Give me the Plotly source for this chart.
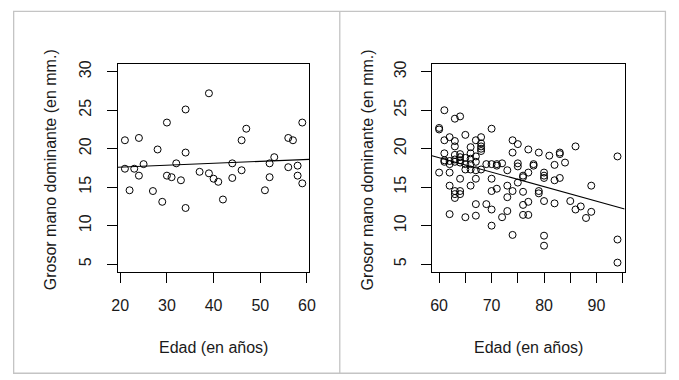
import numpy as np
import plotly.graph_objects as go

# ---------------- data ----------------
# Left panel: younger group (age, dominant-hand thickness in mm)
edad_jov = [21, 21, 22, 23, 24, 24, 25, 27, 28, 29, 30, 30, 31, 32, 33, 34, 34, 34,
            37, 39, 39, 40, 41, 42, 44, 44, 46, 46, 47, 51, 52, 52, 53, 56, 56, 57,
            58, 58, 59, 59]
grosor_jov = [21.1, 17.4, 14.6, 17.4, 21.4, 16.5, 18.0, 14.5, 19.9, 13.1, 23.4, 16.5,
              16.3, 18.1, 15.9, 25.1, 19.5, 12.3, 17.0, 27.2, 16.8, 16.1, 15.7, 13.4,
              18.1, 16.2, 21.1, 17.2, 22.6, 14.6, 18.1, 16.3, 18.9, 21.4, 17.6, 21.1,
              17.8, 16.5, 23.4, 15.5]

# Right panel: older group
edad_may = [60, 60, 60,
            61, 61, 61, 61, 61,
            62, 62, 62, 62, 62, 62,
            63, 63, 63, 63, 63, 63, 63, 63, 63,
            64, 64, 64, 64, 64, 64, 64, 64,
            65, 65, 65, 65, 65,
            66, 66, 66, 66, 66, 66,
            67, 67, 67, 67, 67, 67, 67,
            68, 68, 68, 68, 68, 68,
            69, 69,
            70, 70, 70, 70, 70, 70,
            71, 71, 71,
            72, 72,
            73, 73, 73, 73,
            74, 74, 74, 74,
            75, 75, 75, 75,
            76, 76, 76, 76, 76,
            77, 77, 77, 77,
            78, 78,
            79, 79, 79,
            80, 80, 80, 80, 80, 80,
            81,
            82, 82, 82,
            83, 83, 83,
            84, 85, 86, 86, 87, 88, 89, 89,
            94, 94, 94]
grosor_may = [22.7, 22.5, 16.9,
              25.0, 21.1, 19.4, 18.5, 18.3,
              21.5, 18.4, 18.0, 16.9, 15.2, 11.5,
              23.9, 21.0, 20.3, 19.2, 18.6, 18.3, 14.5, 14.1, 13.6,
              24.2, 19.3, 18.9, 18.5, 18.2, 16.1, 14.5, 14.1,
              21.8, 18.8, 18.0, 17.3, 11.1,
              20.2, 19.4, 18.7, 18.0, 17.3, 15.2,
              21.1, 19.0, 18.3, 17.2, 16.1, 12.8, 11.3,
              21.5, 20.7, 20.3, 20.0, 19.7, 17.3,
              18.0, 12.8,
              22.6, 18.0, 16.1, 14.5, 12.1, 10.0,
              18.0, 17.8, 14.8,
              18.1, 11.1,
              17.2, 15.2, 13.7, 11.9,
              21.1, 19.5, 14.5, 8.8,
              20.6, 18.1, 17.7, 15.6,
              16.5, 16.3, 14.4, 12.7, 11.4,
              19.9, 16.9, 13.1, 11.4,
              18.0, 17.8,
              19.5, 14.5, 14.2,
              16.9, 16.5, 16.2, 13.2, 8.7, 7.4,
              19.1,
              17.9, 15.9, 12.9,
              19.5, 19.3, 16.2,
              18.2, 13.2, 20.3, 12.1, 12.5, 11.0, 15.2, 11.8,
              19.0, 8.2, 5.2]

y_ticks = [5, 10, 15, 20, 25, 30]
x_ticks_jov = [20, 30, 40, 50, 60]
x_ticks_may = [60, 65, 70, 75, 80, 85, 90, 95]
x_ticktext_may = ["60", "", "70", "", "80", "", "90", ""]

titulo_x = "Edad (en años)"
titulo_y = "Grosor mano dominante (en mm.)"

# ---------------- figure ----------------
W, H = 679, 380
FONT = "Liberation Sans, Arial, sans-serif"
TXT = "#1a1a1a"

def r_range(vals):
    a, b = min(vals), max(vals)
    d = (b - a) * 0.04
    return [a - d, b + d]

xr1 = r_range(edad_jov)
xr2 = r_range(edad_may)
yr = r_range([5, 30])

fig = go.Figure()

marker = dict(symbol="circle-open", size=7, color="black", line=dict(width=1, color="black"))

fig.add_trace(go.Scatter(x=edad_jov, y=grosor_jov, mode="markers", marker=marker,
                         xaxis="x", yaxis="y", showlegend=False, hoverinfo="skip"))
fig.add_trace(go.Scatter(x=edad_may, y=grosor_may, mode="markers", marker=marker,
                         xaxis="x2", yaxis="y2", showlegend=False, hoverinfo="skip"))

# regression lines (abline across the plot region)
b1, a1 = np.polyfit(edad_jov, grosor_jov, 1)
b2, a2 = np.polyfit(edad_may, grosor_may, 1)
fig.add_trace(go.Scatter(x=xr1, y=[a1 + b1 * v for v in xr1], mode="lines",
                         line=dict(color="black", width=1.1), xaxis="x", yaxis="y",
                         showlegend=False, hoverinfo="skip"))
fig.add_trace(go.Scatter(x=xr2, y=[a2 + b2 * v for v in xr2], mode="lines",
                         line=dict(color="black", width=1.1), xaxis="x2", yaxis="y2",
                         showlegend=False, hoverinfo="skip"))

# plot-region geometry (pixels)
L1, R1 = 114.0, 309.3
L2, R2 = 434.3, 630.7
T, B = 60.7, 270.7

def px(x):
    return x / W

def py(y):
    return 1 - y / H

axis_common = dict(showline=True, mirror=True, linecolor="black", linewidth=1,
                   ticks="outside", ticklen=10, tickwidth=1, tickcolor="black",
                   showgrid=False, zeroline=False,
                   tickfont=dict(family=FONT, size=16, color=TXT))

fig.update_layout(
    width=W, height=H, autosize=False,
    margin=dict(l=0, r=0, t=0, b=0),
    paper_bgcolor="white", plot_bgcolor="white",
    xaxis=dict(domain=[px(L1), px(R1)], range=xr1, tickvals=x_ticks_jov,
               anchor="y", ticklabelstandoff=9, **axis_common),
    yaxis=dict(domain=[py(B), py(T)], range=yr, tickvals=y_ticks, tickangle=-90,
               anchor="x", ticklabelstandoff=9, **axis_common),
    xaxis2=dict(domain=[px(L2), px(R2)], range=xr2, tickvals=x_ticks_may,
                ticktext=x_ticktext_may, anchor="y2", ticklabelstandoff=9, **axis_common),
    yaxis2=dict(domain=[py(B), py(T)], range=yr, tickvals=y_ticks, tickangle=-90,
                anchor="x2", ticklabelstandoff=9, **axis_common),
)

# axis titles
for cx in [(L1 + R1) / 2, (L2 + R2) / 2]:
    fig.add_annotation(text=titulo_x, x=px(cx), y=py(347), xref="paper", yref="paper",
                       showarrow=False, xanchor="center", yanchor="middle",
                       font=dict(family=FONT, size=16, color=TXT))
for cxy in [45.7, 369.0]:
    fig.add_annotation(text=titulo_y, x=px(cxy), y=py((T + B) / 2 + 1.5), xref="paper",
                       yref="paper", showarrow=False, textangle=-90,
                       xanchor="center", yanchor="middle",
                       font=dict(family=FONT, size=16, color=TXT))

# outer frame and divider
GRAY = "#c4c4c4"
fig.add_shape(type="rect", xref="paper", yref="paper", x0=px(7.8), x1=px(672.3),
              y0=py(373.2), y1=py(7.5), line=dict(color=GRAY, width=1.3), layer="below")
fig.add_shape(type="line", xref="paper", yref="paper", x0=px(340.3), x1=px(340.3),
              y0=py(373.2), y1=py(7.0), line=dict(color=GRAY, width=1.3), layer="below")

fig.write_html("out.html", config={"displayModeBar": False},
               post_script="document.body.style.margin='0';document.body.style.overflow='hidden';")
